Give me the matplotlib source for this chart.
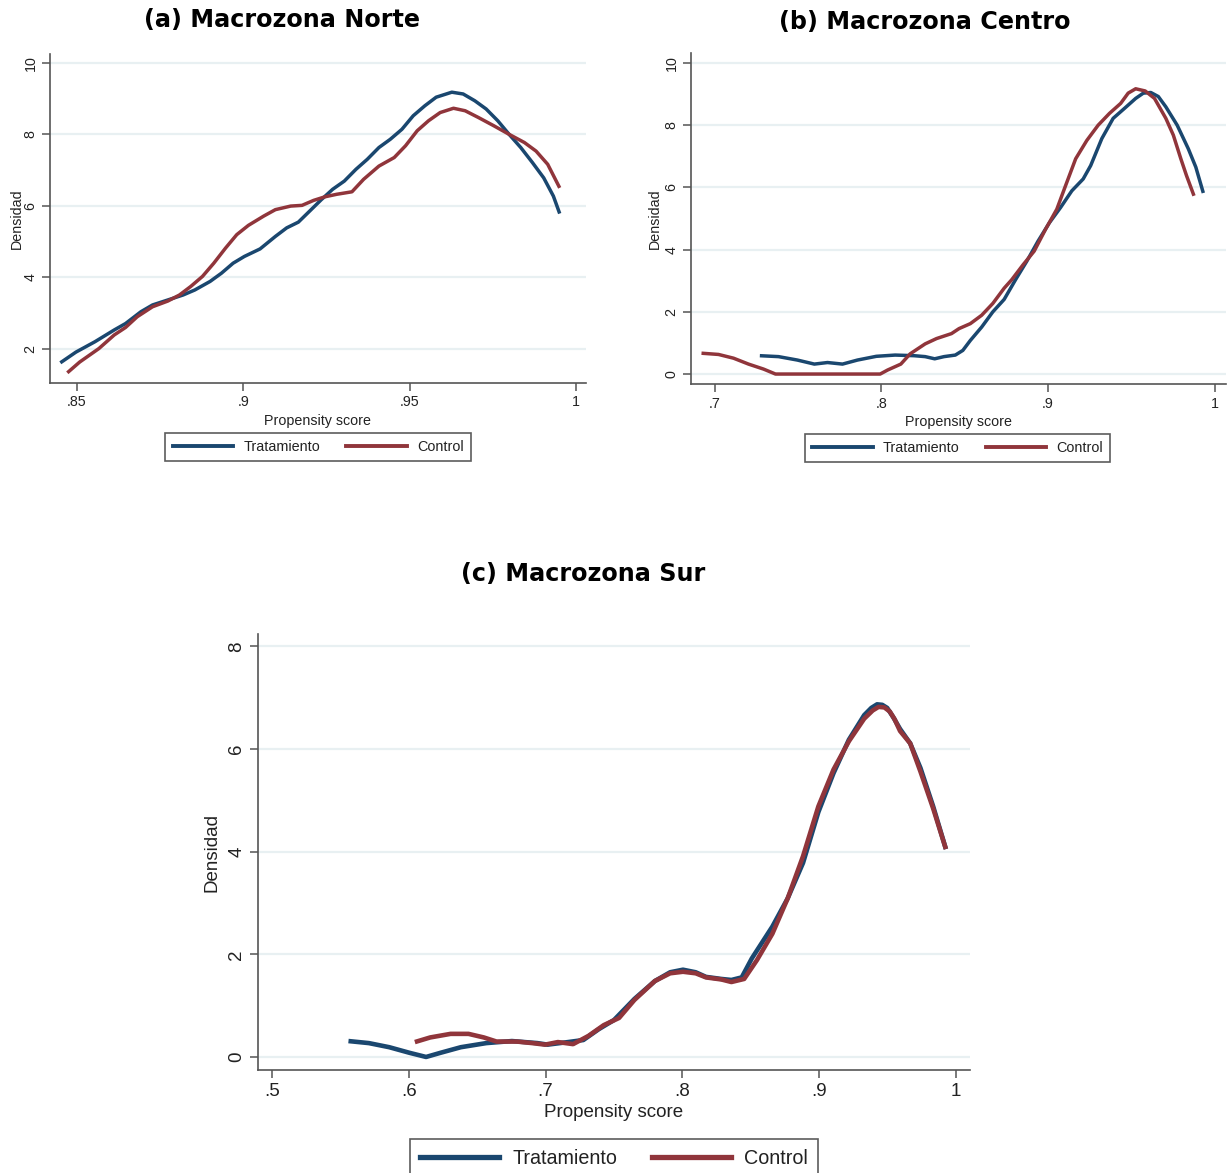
import matplotlib
matplotlib.use("Agg")
import matplotlib.pyplot as plt
from matplotlib.lines import Line2D

# ---- Kernel density estimates of the propensity score ----
# (a) Macrozona Norte
norte_trat_x = [0.845, 0.8497, 0.8554, 0.8612, 0.8646, 0.8692, 0.8727, 0.8773, 0.8819, 0.8854,
                0.8900, 0.8934, 0.8969, 0.9003, 0.9050, 0.9096, 0.9130, 0.9165, 0.9199, 0.9234,
                0.9268, 0.9303, 0.9338, 0.9372, 0.9407, 0.9441, 0.9476, 0.9510, 0.9545, 0.9579,
                0.9626, 0.9660, 0.9695, 0.9729, 0.9764, 0.9798, 0.9833, 0.9868, 0.9902, 0.9931,
                0.9950]
norte_trat_y = [1.60, 1.90, 2.19, 2.52, 2.70, 3.03, 3.22, 3.36, 3.50, 3.64,
                3.88, 4.11, 4.39, 4.58, 4.79, 5.14, 5.38, 5.54, 5.85, 6.17,
                6.46, 6.69, 7.02, 7.30, 7.63, 7.86, 8.14, 8.52, 8.80, 9.04,
                9.18, 9.13, 8.94, 8.71, 8.38, 8.00, 7.63, 7.21, 6.78, 6.27,
                5.78]
norte_ctrl_x = [0.8471, 0.8508, 0.8566, 0.8612, 0.8646, 0.8681, 0.8727, 0.8773, 0.8808, 0.8842,
                0.8877, 0.8911, 0.8946, 0.8980, 0.9015, 0.9061, 0.9096, 0.9142, 0.9176, 0.9211,
                0.9245, 0.9280, 0.9326, 0.9361, 0.9407, 0.9453, 0.9487, 0.9522, 0.9556, 0.9591,
                0.9631, 0.9666, 0.9706, 0.9752, 0.9798, 0.9844, 0.9879, 0.9914, 0.9950]
norte_ctrl_y = [1.32, 1.62, 2.00, 2.38, 2.59, 2.89, 3.17, 3.33, 3.50, 3.74,
                4.02, 4.39, 4.81, 5.19, 5.45, 5.71, 5.89, 5.99, 6.01, 6.15,
                6.25, 6.32, 6.39, 6.74, 7.11, 7.35, 7.68, 8.10, 8.38, 8.61,
                8.73, 8.66, 8.47, 8.24, 8.00, 7.77, 7.53, 7.16, 6.50]

# (b) Macrozona Centro
centro_trat_x = [0.7271, 0.7383, 0.7496, 0.7598, 0.7677, 0.7767, 0.7857, 0.7970, 0.8083, 0.8196,
                 0.8263, 0.8320, 0.8376, 0.8444, 0.8489, 0.8534, 0.8602, 0.8669, 0.8737, 0.8805,
                 0.8872, 0.8940, 0.9008, 0.9075, 0.9143, 0.9211, 0.9256, 0.9323, 0.9391, 0.9459,
                 0.9526, 0.9572, 0.9617, 0.9662, 0.9707, 0.9775, 0.9842, 0.9887, 0.9932]
centro_trat_y = [0.59, 0.56, 0.45, 0.32, 0.37, 0.32, 0.45, 0.57, 0.61, 0.59,
                 0.56, 0.49, 0.56, 0.61, 0.76, 1.08, 1.51, 2.00, 2.40, 3.03,
                 3.62, 4.27, 4.86, 5.35, 5.89, 6.27, 6.70, 7.57, 8.22, 8.54,
                 8.86, 9.03, 9.05, 8.92, 8.59, 8.00, 7.24, 6.65, 5.82]
centro_ctrl_x = [0.6921, 0.7023, 0.7113, 0.7203, 0.7293, 0.7365, 0.7993, 0.8038, 0.8117, 0.8173,
                 0.8263, 0.8331, 0.8421, 0.8466, 0.8534, 0.8602, 0.8669, 0.8737, 0.8782, 0.8850,
                 0.8917, 0.8985, 0.9053, 0.9098, 0.9166, 0.9233, 0.9301, 0.9369, 0.9436, 0.9481,
                 0.9526, 0.9583, 0.9639, 0.9707, 0.9752, 0.9797, 0.9831, 0.9876]
centro_ctrl_y = [0.67, 0.63, 0.51, 0.32, 0.16, 0.00, 0.00, 0.13, 0.32, 0.65,
                 0.97, 1.14, 1.30, 1.46, 1.62, 1.89, 2.27, 2.76, 3.03, 3.51,
                 3.95, 4.65, 5.30, 5.95, 6.92, 7.51, 8.00, 8.38, 8.70, 9.03,
                 9.17, 9.10, 8.86, 8.22, 7.68, 6.92, 6.38, 5.73]

# (c) Macrozona Sur
sur_trat_x = [0.5560, 0.5709, 0.5858, 0.6007, 0.6127, 0.6231, 0.6381, 0.6567, 0.6754, 0.6940,
              0.7015, 0.7164, 0.7276, 0.7388, 0.7500, 0.7649, 0.7799, 0.7910, 0.8004, 0.8097,
              0.8172, 0.8284, 0.8358, 0.8433, 0.8507, 0.8657, 0.8769, 0.8881, 0.8993, 0.9104,
              0.9216, 0.9328, 0.9380, 0.9422, 0.9460, 0.9496, 0.9540, 0.9590, 0.9664, 0.9739,
              0.9832, 0.9925]
sur_trat_y = [0.31, 0.27, 0.19, 0.08, 0.00, 0.08, 0.19, 0.27, 0.31, 0.27,
              0.24, 0.29, 0.33, 0.54, 0.72, 1.13, 1.48, 1.65, 1.70, 1.65,
              1.56, 1.52, 1.50, 1.55, 1.92, 2.54, 3.09, 3.78, 4.77, 5.53,
              6.18, 6.66, 6.80, 6.87, 6.86, 6.80, 6.62, 6.39, 6.11, 5.63,
              4.88, 4.05]
sur_ctrl_x = [0.6045, 0.6157, 0.6306, 0.6437, 0.6549, 0.6642, 0.6791, 0.6903, 0.6996, 0.7090,
              0.7201, 0.7313, 0.7425, 0.7537, 0.7649, 0.7799, 0.7910, 0.8004, 0.8097, 0.8172,
              0.8284, 0.8358, 0.8451, 0.8545, 0.8657, 0.8769, 0.8881, 0.8993, 0.9104, 0.9216,
              0.9328, 0.9390, 0.9433, 0.9475, 0.9515, 0.9550, 0.9590, 0.9664, 0.9739, 0.9832,
              0.9925]
sur_ctrl_y = [0.29, 0.38, 0.45, 0.45, 0.38, 0.30, 0.30, 0.27, 0.24, 0.29,
              0.25, 0.41, 0.62, 0.76, 1.11, 1.48, 1.63, 1.66, 1.63, 1.55,
              1.51, 1.46, 1.52, 1.89, 2.40, 3.09, 3.91, 4.88, 5.60, 6.15,
              6.59, 6.75, 6.82, 6.81, 6.73, 6.58, 6.35, 6.11, 5.56, 4.84,
              4.05]

series_labels = ["Tratamiento", "Control"]
titles = ["(a) Macrozona Norte", "(b) Macrozona Centro", "(c) Macrozona Sur"]

norte_xticks = [0.85, 0.90, 0.95, 1.0]
norte_xticklabels = [".85", ".9", ".95", "1"]
norte_yticks = [2, 4, 6, 8, 10]
centro_xticks = [0.7, 0.8, 0.9, 1.0]
centro_xticklabels = [".7", ".8", ".9", "1"]
centro_yticks = [0, 2, 4, 6, 8, 10]
sur_xticks = [0.5, 0.6, 0.7, 0.8, 0.9, 1.0]
sur_xticklabels = [".5", ".6", ".7", ".8", ".9", "1"]
sur_yticks = [0, 2, 4, 6, 8]

NAVY = "#1a476f"
MAROON = "#90353b"
GRID = "#e8f0f2"
SPINE = "#555555"
TXT = "#222222"

W, H = 1228, 1173
fig = plt.figure(figsize=(W / 100, H / 100), dpi=100)
fig.patch.set_facecolor("white")

plt.rcParams["font.family"] = ["Liberation Sans", "DejaVu Sans"]


def px_axes(left, top, right, bottom):
    return fig.add_axes([left / W, 1 - bottom / H, (right - left) / W, (bottom - top) / H])


def style(ax, xlim, ylim, xticks, xticklabels, yticks, fs, ylabelpad):
    ax.set_xlim(*xlim)
    ax.set_ylim(*ylim)
    ax.set_xticks(xticks)
    ax.set_xticklabels(xticklabels)
    ax.set_yticks(yticks)
    ax.set_yticklabels([str(v) for v in yticks], rotation=90, va="center")
    for s in ("top", "right"):
        ax.spines[s].set_visible(False)
    for s in ("left", "bottom"):
        ax.spines[s].set_color(SPINE)
        ax.spines[s].set_linewidth(1.2)
    ax.tick_params(axis="both", direction="out", length=6, width=1.1, color=SPINE,
                   labelsize=fs, labelcolor=TXT, pad=3)
    for y in yticks:
        ax.axhline(y, color=GRID, lw=1.6, zorder=0)
    ax.set_xlabel("Propensity score", fontsize=fs, color=TXT, labelpad=3)
    ax.set_ylabel("Densidad", fontsize=fs, color=TXT, labelpad=ylabelpad)


# (a)
ax1 = px_axes(50, 54, 586, 383)
ax1.plot(norte_trat_x, norte_trat_y, color=NAVY, lw=2.5, solid_capstyle="butt")
ax1.plot(norte_ctrl_x, norte_ctrl_y, color=MAROON, lw=2.5, solid_capstyle="butt")
style(ax1, (0.8419, 1.0029), (1.034, 10.25), norte_xticks, norte_xticklabels, norte_yticks, 10.3, 0)

# (b)
ax2 = px_axes(691, 53, 1226, 384)
ax2.plot(centro_trat_x, centro_trat_y, color=NAVY, lw=2.5, solid_capstyle="butt")
ax2.plot(centro_ctrl_x, centro_ctrl_y, color=MAROON, lw=2.5, solid_capstyle="butt")
style(ax2, (0.6858, 1.0068), (-0.32, 10.32), centro_xticks, centro_xticklabels, centro_yticks, 10.3, 2)

# (c)
ax3 = px_axes(258, 634, 970, 1070)
ax3.plot(sur_trat_x, sur_trat_y, color=NAVY, lw=3.3, solid_capstyle="butt")
ax3.plot(sur_ctrl_x, sur_ctrl_y, color=MAROON, lw=3.3, solid_capstyle="butt")
style(ax3, (0.4899, 1.0101), (-0.254, 8.24), sur_xticks, sur_xticklabels, sur_yticks, 13.5, 6)

# Panel titles
title_font = dict(family=["DejaVu Sans"], fontweight="bold", color="black")
fig.text(282 / W, 1 - 20 / H, titles[0], ha="center", va="center", fontsize=17.2, **title_font)
fig.text(925 / W, 1 - 22 / H, titles[1], ha="center", va="center", fontsize=17.2, **title_font)
fig.text(583 / W, 1 - 574 / H, titles[2], ha="center", va="center", fontsize=17.2, **title_font)

# Legends
def add_legend(cx, cy, fs, lw, handlelen, colspace):
    handles = [Line2D([], [], color=NAVY, lw=lw), Line2D([], [], color=MAROON, lw=lw)]
    leg = fig.legend(handles, series_labels, loc="center", bbox_to_anchor=(cx / W, 1 - cy / H),
                     ncol=2, frameon=True, fancybox=False, fontsize=fs,
                     handlelength=handlelen, handletextpad=0.7, columnspacing=colspace,
                     borderpad=0.5, borderaxespad=0)
    fr = leg.get_frame()
    fr.set_edgecolor("#333333")
    fr.set_linewidth(1.2)
    for t in leg.get_texts():
        t.set_color(TXT)
    return leg

add_legend(318, 447, 10.4, 2.8, 4.2, 1.8)
add_legend(957.5, 448, 10.4, 2.8, 4.2, 1.8)
add_legend(614, 1158, 14.2, 3.8, 4.0, 1.75)

fig.savefig("out.png", dpi=100, facecolor="white")
